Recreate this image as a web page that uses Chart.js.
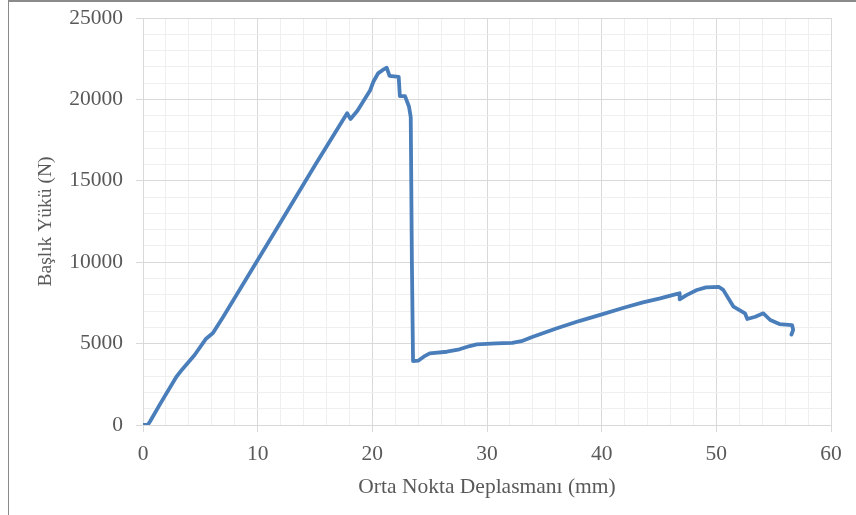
<!DOCTYPE html>
<html>
<head>
<meta charset="utf-8">
<script src="https://cdn.jsdelivr.net/npm/chart.js@4/dist/chart.umd.min.js"></script>
<style>
  html, body { margin: 0; padding: 0; background: #fff; overflow: hidden; }
  #wrap { position: relative; width: 856px; height: 515px; }
  #frame { position: absolute; left: 8px; top: 0; width: 900px; height: 600px;
           border-left: 1px solid #8a8a8a; border-top: 2px solid #8a8a8a; }
  canvas { position: absolute; left: 0; top: 0; }
</style>
</head>
<body>
<div id="wrap">
  <div id="frame"></div>
  <canvas id="c" width="856" height="515"></canvas>
</div>
<script>
// Midpoint displacement (mm) and head load (N) from the bending test
const displacement = [
  0.0, 0.4, 0.6, 1.5, 2.9, 3.4, 4.5, 5.5, 6.1, 7.0, 9.5, 12.0, 15.0, 17.8,
  18.1, 18.7, 19.8, 20.1, 20.5, 21.0, 21.25, 21.5, 22.3, 22.4, 22.85, 23.2, 23.35,
  23.45, 23.55, 24.0, 24.6, 25.0, 26.5, 27.6, 28.5, 29.1, 30.8, 32.2, 33.0, 34.0, 36.1, 38.1,
  39.8, 42.0, 43.6, 45.1, 46.5, 46.8, 46.8, 47.4, 48.3, 49.1, 50.2, 50.6,
  51.5, 52.5, 52.7, 53.4, 54.1, 54.7, 55.5, 56.6, 56.7, 56.55
];
const headLoad = [
  0, 0, 200, 1300, 2950, 3400, 4300, 5300, 5650, 6650, 9550, 12450, 15950, 19150,
  18800, 19300, 20550, 21100, 21600, 21850, 21950, 21450, 21380, 20200, 20200, 19550, 18900,
  10000, 3930, 3950, 4250, 4400, 4500, 4650, 4850, 4950, 5010, 5040, 5150, 5420, 5940, 6400,
  6750, 7220, 7530, 7780, 8040, 8090, 7720, 7980, 8290, 8450, 8490, 8300,
  7270, 6860, 6510, 6650, 6860, 6450, 6200, 6140, 5850, 5550
];

// Axis ranges, steps and label texts
const xRange = [0, 60];
const yRange = [0, 25000];
const xMinorStep = 2, xMajorStep = 10;
const yMinorStep = 1000, yMajorStep = 5000;
const xTitle = 'Orta Nokta Deplasmanı (mm)';
const yTitle = 'Başlık Yükü (N)';

const points = displacement.map((x, i) => ({ x: x, y: headLoad[i] }));

const textColor = '#595959';
const majorGrid = '#d9d9d9';
const minorGrid = '#efefef';
const fontFamily = '"Liberation Serif", "Times New Roman", serif';

function isMajor(v, step) { return Math.abs(v / step - Math.round(v / step)) < 1e-6; }

new Chart(document.getElementById('c'), {
  type: 'scatter',
  data: {
    datasets: [{
      data: points,
      showLine: true,
      borderColor: '#4a7ebb',
      borderWidth: 3.8,
      pointRadius: 0,
      tension: 0,
      borderJoinStyle: 'round',
      borderCapStyle: 'round'
    }]
  },
  options: {
    responsive: false,
    animation: false,
    layout: { padding: { left: 0, top: 18, right: 25, bottom: 0 } },
    plugins: { legend: { display: false }, tooltip: { enabled: false } },
    scales: {
      x: {
        type: 'linear',
        min: xRange[0], max: xRange[1],
        afterFit: s => { s.height = 90; s.paddingLeft = 0; s.paddingRight = 0; },
        ticks: {
          stepSize: xMinorStep, autoSkip: false, maxRotation: 0,
          color: textColor, padding: 9,
          font: { family: fontFamily, size: 21.5 },
          callback: v => isMajor(v, xMajorStep) ? String(v) : ''
        },
        grid: {
          color: c => isMajor(c.tick.value, xMajorStep) ? majorGrid : minorGrid,
          tickColor: c => isMajor(c.tick.value, xMajorStep) ? majorGrid : 'rgba(0,0,0,0)',
          tickLength: 7,
          lineWidth: 1
        },
        border: { color: majorGrid },
        title: {
          display: true, text: xTitle, color: textColor,
          font: { family: fontFamily, size: 21.5 },
          padding: { top: 0, bottom: 15 }
        }
      },
      y: {
        type: 'linear',
        min: yRange[0], max: yRange[1],
        afterFit: s => { s.width = 143; s.paddingTop = 0; s.paddingBottom = 0; },
        ticks: {
          stepSize: yMinorStep, autoSkip: false,
          color: textColor, padding: 13,
          font: { family: fontFamily, size: 21.5 },
          callback: v => isMajor(v, yMajorStep) ? String(v) : ''
        },
        grid: {
          color: c => isMajor(c.tick.value, yMajorStep) ? majorGrid : minorGrid,
          tickColor: c => isMajor(c.tick.value, yMajorStep) ? majorGrid : 'rgba(0,0,0,0)',
          tickLength: 7,
          lineWidth: 1
        },
        border: { color: majorGrid },
        title: {
          display: true, text: yTitle, color: textColor,
          font: { family: fontFamily, size: 19.5 },
          padding: { top: 34, bottom: 0 }
        }
      }
    }
  }
});
</script>
</body>
</html>
